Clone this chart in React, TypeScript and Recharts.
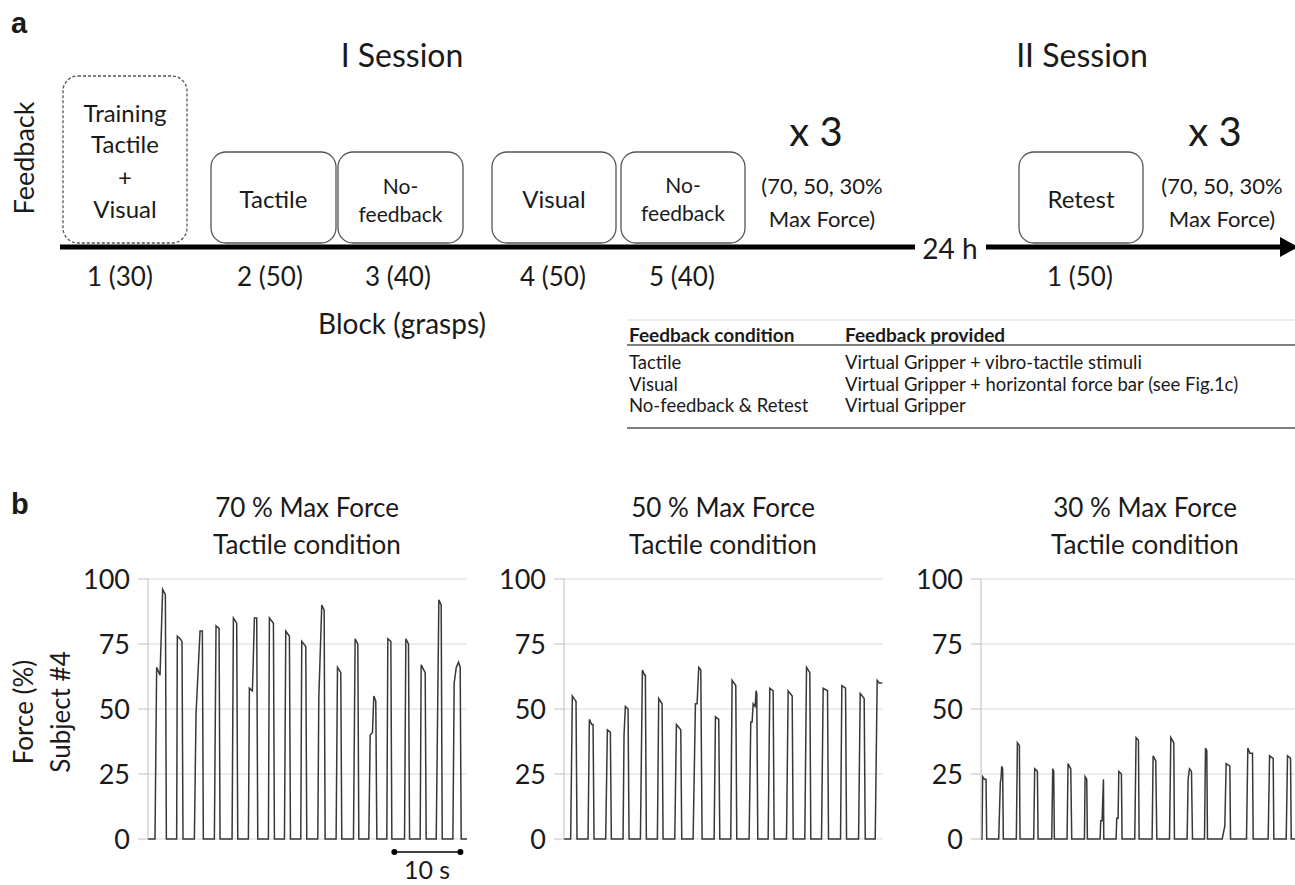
import React from 'react';
import {
  LineChart,
  Line,
  XAxis,
  YAxis,
  CartesianGrid,
  ReferenceLine,
  ReferenceDot,
} from 'recharts';

// ---- panel a: protocol diagram ----
const boxTexts = [
  ['Training', 'Tactile', '+', 'Visual'],
  ['Tactile'],
  ['No-', 'feedback'],
  ['Visual'],
  ['No-', 'feedback'],
  ['Retest'],
];
const blockLabels = ['1 (30)', '2 (50)', '3 (40)', '4 (50)', '5 (40)', '1 (50)'];
const sessionLabels = ['I Session', 'II Session'];
const repeatLabel = 'x 3';
const forceLevels = ['(70, 50, 30%', 'Max Force)'];
const tableHeader = ['Feedback condition', 'Feedback provided'];
const tableRows = [
  ['Tactile', 'Virtual Gripper + vibro-tactile stimuli'],
  ['Visual', 'Virtual Gripper + horizontal force bar (see Fig.1c)'],
  ['No-feedback & Retest', 'Virtual Gripper'],
];

// ---- panel b: force traces, subject #4, tactile condition ----
// each grasp: [time s, force %] vertices
const forceTicks = [0, 25, 50, 75, 100];
const panelTitles = [
  ['70 % Max Force', 'Tactile condition'],
  ['50 % Max Force', 'Tactile condition'],
  ['30 % Max Force', 'Tactile condition'],
];

const grasps70: number[][][] = [
  [[1.06, 0], [1.31, 66], [1.82, 63], [2.22, 96], [2.63, 94], [2.78, 0]],
  [[4.34, 0], [4.44, 78], [4.85, 77], [5.15, 76], [5.3, 0]],
  [[7.02, 0], [7.27, 48], [7.88, 80], [8.23, 80], [8.38, 0]],
  [[10.05, 0], [10.3, 82], [10.76, 81], [10.91, 0]],
  [[12.73, 0], [12.93, 85], [13.43, 83], [13.59, 0]],
  [[15.2, 0], [15.35, 58], [15.81, 57], [16.11, 85], [16.46, 85], [16.62, 0]],
  [[18.23, 0], [18.38, 85], [18.99, 83], [19.14, 0]],
  [[20.66, 0], [20.86, 80], [21.41, 78], [21.57, 0]],
  [[23.13, 0], [23.28, 76], [23.89, 74], [24.04, 0]],
  [[25.71, 0], [25.86, 54], [26.31, 90], [26.67, 88], [26.82, 0]],
  [[28.48, 0], [28.69, 66], [29.19, 64], [29.34, 0]],
  [[31.11, 0], [31.36, 77], [31.77, 75], [31.92, 0]],
  [[33.43, 0], [33.64, 40], [33.99, 41], [34.19, 55], [34.49, 53], [34.65, 0]],
  [[36.16, 0], [36.31, 77], [36.77, 76], [36.92, 0]],
  [[38.84, 0], [39.04, 77], [39.44, 75], [39.6, 0]],
  [[41.21, 0], [41.36, 67], [41.97, 64], [42.12, 0]],
  [[43.64, 0], [44.04, 92], [44.39, 90], [44.55, 0]],
  [[46.16, 0], [46.36, 60], [46.67, 66], [47.02, 68], [47.27, 66], [47.42, 0]],
];

const grasps50: number[][][] = [
  [[1.01, 0], [1.26, 55], [1.52, 54], [1.82, 53], [1.97, 0]],
  [[3.64, 0], [3.84, 46], [4.19, 44], [4.4, 44], [4.55, 0]],
  [[6.31, 0], [6.57, 42], [7.02, 41], [7.17, 0]],
  [[8.94, 0], [9.09, 40], [9.29, 51], [9.7, 50], [9.85, 0]],
  [[11.57, 0], [11.87, 65], [12.22, 63], [12.32, 63], [12.47, 0]],
  [[14.14, 0], [14.34, 54], [14.85, 52], [15.0, 0]],
  [[16.77, 0], [17.02, 44], [17.68, 42], [17.83, 0]],
  [[19.55, 0], [19.9, 52], [20.15, 52], [20.4, 66], [20.71, 65], [20.91, 0]],
  [[22.73, 0], [22.93, 47], [23.43, 46], [23.59, 0]],
  [[25.25, 0], [25.45, 61], [26.01, 59], [26.16, 0]],
  [[28.03, 0], [28.28, 45], [28.48, 45], [28.64, 52], [28.94, 51], [29.09, 57], [29.19, 56], [29.34, 0]],
  [[30.91, 0], [31.16, 58], [31.67, 57], [31.82, 0]],
  [[33.69, 0], [33.94, 57], [34.55, 55], [34.7, 0]],
  [[36.46, 0], [36.72, 66], [37.22, 64], [37.37, 0]],
  [[38.99, 0], [39.24, 58], [39.9, 57], [40.05, 0]],
  [[41.87, 0], [42.07, 59], [42.63, 58], [42.78, 0]],
  [[44.6, 0], [44.85, 56], [45.45, 54], [45.61, 0]],
  [[47.12, 0], [47.42, 61], [47.73, 60], [48.2, 60]],
];

const grasps30: number[][][] = [
  [[0.15, 0], [0.25, 24], [0.51, 23], [0.76, 23], [0.86, 0]],
  [[2.68, 0], [2.93, 22], [3.03, 23], [3.13, 28], [3.28, 27], [3.38, 0]],
  [[5.35, 0], [5.51, 37], [5.81, 36], [5.91, 0]],
  [[7.98, 0], [8.13, 27], [8.54, 26], [8.64, 0]],
  [[10.71, 0], [10.86, 27], [11.01, 26], [11.11, 0]],
  [[13.03, 0], [13.18, 29], [13.59, 27], [13.74, 0]],
  [[15.66, 0], [15.76, 24], [16.01, 23], [16.11, 0]],
  [[18.03, 0], [18.13, 7], [18.33, 7], [18.54, 23], [18.59, 0]],
  [[20.45, 0], [20.56, 8], [20.76, 8], [20.86, 26], [21.26, 25], [21.36, 0]],
  [[23.28, 0], [23.48, 39], [23.84, 38], [23.94, 0]],
  [[25.91, 0], [26.06, 32], [26.46, 30], [26.62, 0]],
  [[28.54, 0], [28.74, 39], [29.19, 37], [29.29, 0]],
  [[31.21, 0], [31.36, 23], [31.57, 27], [31.87, 26], [32.02, 0]],
  [[33.84, 0], [33.99, 35], [34.19, 34], [34.29, 0]],
  [[36.52, 0], [36.92, 5], [37.12, 29], [37.68, 28], [37.78, 0]],
  [[40.2, 0], [40.4, 35], [40.71, 33], [41.11, 33], [41.21, 0]],
  [[43.48, 0], [43.69, 32], [44.24, 31], [44.34, 0]],
  [[46.21, 0], [46.41, 32], [46.87, 31], [46.97, 0]],
];

const traceEnd = 48.3;
const scaleBar = [37.3, 47.3]; // 10 s

const buildTrace = (grasps: number[][][]) => {
  const pts = [{ t: 0, f: 0 }];
  grasps.forEach((g) => g.forEach(([t, f]) => pts.push({ t, f })));
  const last = pts[pts.length - 1];
  if (last.t < traceEnd && last.f === 0) pts.push({ t: traceEnd, f: 0 });
  return pts;
};

const FONT = 'Lato, "Open Sans", sans-serif';
const INK = '#1a1a1a';

const ForcePanel = ({ grasps, left, withScale }: { grasps: number[][][]; left: number; withScale?: boolean }) => (
  <div style={{ position: 'absolute', left, top: 560 }}>
    <LineChart width={407} height={325} data={buildTrace(grasps)} margin={{ top: 19, right: 0, bottom: 46, left: 0 }}>
      <CartesianGrid vertical={false} stroke="#d9d9d9" />
      <XAxis type="number" dataKey="t" domain={[0, traceEnd]} hide allowDataOverflow />
      <YAxis
        domain={[0, 100]}
        ticks={forceTicks}
        interval={0}
        width={88}
        tickSize={10}
        tickMargin={8}
        axisLine={{ stroke: '#bfbfbf' }}
        tickLine={{ stroke: '#bfbfbf' }}
        tick={{ fill: INK, fontSize: 27, fontFamily: FONT }}
      />
      <Line type="linear" dataKey="f" stroke="#383838" strokeWidth={1.5} dot={false} isAnimationActive={false} />
      {withScale && (
        <ReferenceLine
          segment={[{ x: scaleBar[0], y: -5 }, { x: scaleBar[1], y: -5 }]}
          stroke="#000"
          strokeWidth={1.5}
          ifOverflow="visible"
        />
      )}
      {withScale && <ReferenceDot x={scaleBar[0]} y={-5} r={3} fill="#000" stroke="none" ifOverflow="visible" />}
      {withScale && <ReferenceDot x={scaleBar[1]} y={-5} r={3} fill="#000" stroke="none" ifOverflow="visible" />}
    </LineChart>
  </div>
);

// layout of panel a
const boxGeom = [
  { x: 63, y: 76, w: 124, h: 167, dashed: true, ys: [112, 143, 176, 208] },
  { x: 211, y: 152, w: 125, h: 91, ys: [198] },
  { x: 338, y: 152, w: 125, h: 91, ys: [185, 213] },
  { x: 492, y: 152, w: 124, h: 91, ys: [198] },
  { x: 621, y: 152, w: 124, h: 91, ys: [184, 212] },
  { x: 1019, y: 152, w: 124, h: 91, ys: [198] },
];
const blockX = [120, 270, 398, 553, 682, 1080];

export default function App() {
  return (
    <div style={{ position: 'fixed', left: 0, top: 0, width: 1295, height: 885, overflow: 'hidden', background: '#fff' }}>
      <ForcePanel grasps={grasps70} left={60} withScale />
      <ForcePanel grasps={grasps50} left={476} />
      <ForcePanel grasps={grasps30} left={893} />

      <svg width={1295} height={885} style={{ position: 'absolute', left: 0, top: 0, pointerEvents: 'none' }} fontFamily={FONT} fill={INK}>
        {/* panel letters */}
        <text x={11} y={33} fontSize={29} fontWeight="bold" fontFamily="Liberation Sans, Arial, sans-serif">a</text>
        <text x={11} y={514} fontSize={29} fontWeight="bold" fontFamily="Liberation Sans, Arial, sans-serif">b</text>

        {/* sessions */}
        <text x={402} y={54} fontSize={32} textAnchor="middle" dominantBaseline="central">{sessionLabels[0]}</text>
        <text x={1082} y={54} fontSize={32} textAnchor="middle" dominantBaseline="central">{sessionLabels[1]}</text>

        <text transform="translate(23,158) rotate(-90)" fontSize={27} textAnchor="middle" dominantBaseline="central">Feedback</text>

        {/* boxes */}
        {boxGeom.map((b, i) => (
          <g key={i}>
            <rect x={b.x} y={b.y} width={b.w} height={b.h} rx={15} fill="none" stroke="#555" strokeWidth={1.3} strokeDasharray={b.dashed ? '3 2' : undefined} />
            {boxTexts[i].map((s, j) => (
              <text key={j} x={b.x + b.w / 2} y={b.ys[j]} fontSize={boxTexts[i].length === 2 ? 21 : 24} textAnchor="middle" dominantBaseline="central">{s}</text>
            ))}
          </g>
        ))}

        {/* repeat notes */}
        {[816, 1215].map((cx, i) => (
          <text key={'r' + i} x={cx} y={131} fontSize={40} textAnchor="middle" dominantBaseline="central">{repeatLabel}</text>
        ))}
        {[822, 1222].map((cx, i) => (
          <g key={'f' + i}>
            <text x={cx} y={185} fontSize={22} textAnchor="middle" dominantBaseline="central">{forceLevels[0]}</text>
            <text x={cx} y={218} fontSize={22} textAnchor="middle" dominantBaseline="central">{forceLevels[1]}</text>
          </g>
        ))}

        {/* timeline */}
        <line x1={60} y1={247} x2={915} y2={247} stroke="#000" strokeWidth={5} />
        <line x1={986} y1={247} x2={1282} y2={247} stroke="#000" strokeWidth={5} />
        <polygon points="1280,237 1298,247 1280,257" fill="#000" />
        <text x={950} y={248} fontSize={28} textAnchor="middle" dominantBaseline="central">24 h</text>

        {blockLabels.map((s, i) => (
          <text key={'b' + i} x={blockX[i]} y={276} fontSize={26} textAnchor="middle" dominantBaseline="central">{s}</text>
        ))}
        <text x={402} y={323} fontSize={28} textAnchor="middle" dominantBaseline="central">Block (grasps)</text>

        {/* condition table */}
        <line x1={627} y1={320} x2={1295} y2={320} stroke="#dcdcdc" strokeWidth={1} />
        <text x={629} y={334} fontSize={19} fontWeight="bold" dominantBaseline="central">{tableHeader[0]}</text>
        <text x={845} y={334} fontSize={19} fontWeight="bold" dominantBaseline="central">{tableHeader[1]}</text>
        <line x1={627} y1={345} x2={1295} y2={345} stroke="#808080" strokeWidth={2} />
        {tableRows.map((r, i) => (
          <g key={'t' + i}>
            <text x={629} y={362 + i * 21.5} fontSize={18.5} dominantBaseline="central">{r[0]}</text>
            <text x={845} y={362 + i * 21.5} fontSize={18.5} dominantBaseline="central">{r[1]}</text>
          </g>
        ))}
        <line x1={627} y1={428} x2={1295} y2={428} stroke="#808080" strokeWidth={2} />

        {/* panel b titles */}
        {[307, 723, 1145].map((cx, i) => (
          <g key={'p' + i}>
            <text x={cx} y={507} fontSize={26} textAnchor="middle" dominantBaseline="central">{panelTitles[i][0]}</text>
            <text x={cx} y={544} fontSize={26} textAnchor="middle" dominantBaseline="central">{panelTitles[i][1]}</text>
          </g>
        ))}
        <text transform="translate(23,712) rotate(-90)" fontSize={26} textAnchor="middle" dominantBaseline="central">Force (%)</text>
        <text transform="translate(60,712) rotate(-90)" fontSize={26} textAnchor="middle" dominantBaseline="central">Subject #4</text>
        <text x={427} y={869} fontSize={25} textAnchor="middle" dominantBaseline="central">10 s</text>
      </svg>
    </div>
  );
}
